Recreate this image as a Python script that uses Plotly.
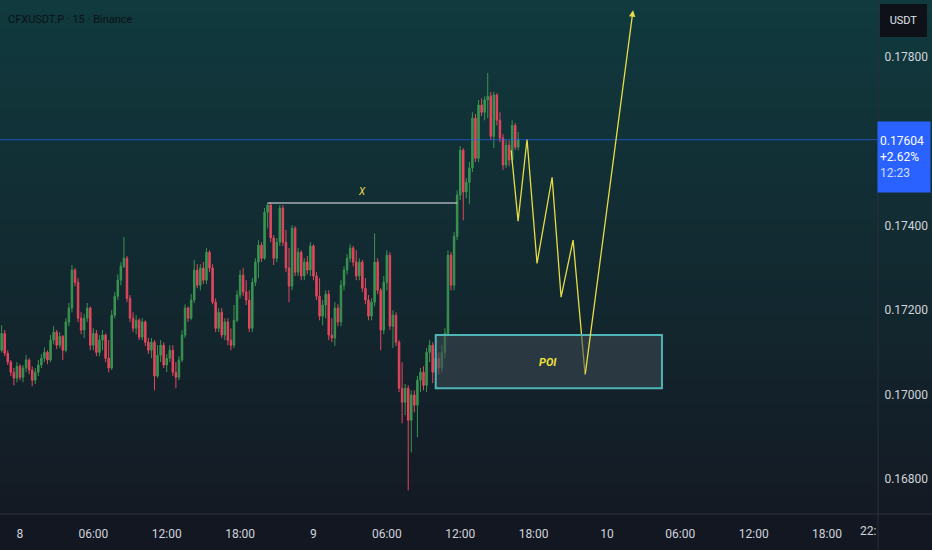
import plotly.graph_objects as go
import pandas as pd

# ---------------- data ----------------
times = pd.date_range("2025-06-07 22:30", periods=170, freq="15min")

opens = [0.17105, 0.17145, 0.17098, 0.17077, 0.17053, 0.17039, 0.17067, 0.17041, 0.17063, 0.17082,
         0.17058, 0.17034, 0.17053, 0.17070, 0.17086, 0.17100, 0.17082, 0.17129, 0.17148, 0.17117,
         0.17138, 0.17105, 0.17172, 0.17205, 0.17295, 0.17266, 0.17181, 0.17153, 0.17181, 0.17205,
         0.17117, 0.17145, 0.17100, 0.17129, 0.17141, 0.17086, 0.17063, 0.17188, 0.17233, 0.17271,
         0.17304, 0.17323, 0.17228, 0.17181, 0.17157, 0.17176, 0.17136, 0.17172, 0.17124, 0.17105,
         0.17124, 0.17044, 0.17093, 0.17117, 0.17070, 0.17086, 0.17105, 0.17053, 0.17041, 0.17082,
         0.17141, 0.17205, 0.17181, 0.17224, 0.17295, 0.17259, 0.17300, 0.17271, 0.17337, 0.17300,
         0.17219, 0.17157, 0.17195, 0.17141, 0.17172, 0.17129, 0.17117, 0.17176, 0.17236, 0.17283,
         0.17243, 0.17224, 0.17157, 0.17266, 0.17314, 0.17354, 0.17323, 0.17432, 0.17449, 0.17371,
         0.17323, 0.17361, 0.17442, 0.17361, 0.17300, 0.17257, 0.17394, 0.17290, 0.17337, 0.17281,
         0.17314, 0.17295, 0.17352, 0.17281, 0.17233, 0.17186, 0.17212, 0.17238, 0.17141, 0.17134,
         0.17205, 0.17172, 0.17259, 0.17295, 0.17323, 0.17347, 0.17314, 0.17281, 0.17314, 0.17252,
         0.17224, 0.17186, 0.17219, 0.17314, 0.17247, 0.17153, 0.17266, 0.17330, 0.17162, 0.17188,
         0.17124, 0.17015, 0.16982, 0.17015, 0.16939, 0.16999, 0.16975, 0.17034, 0.17053, 0.17022,
         0.17100, 0.17117, 0.17053, 0.17086, 0.17063, 0.17100, 0.17145, 0.17330, 0.17259, 0.17375,
         0.17473, 0.17579, 0.17480, 0.17503, 0.17537, 0.17655, 0.17560, 0.17686, 0.17669, 0.17698,
         0.17707, 0.17612, 0.17710, 0.17650, 0.17608, 0.17544, 0.17591, 0.17556, 0.17638, 0.17586]

highs = [0.17164, 0.17153, 0.17105, 0.17082, 0.17063, 0.17077, 0.17072, 0.17070, 0.17093, 0.17086,
         0.17067, 0.17063, 0.17082, 0.17096, 0.17112, 0.17105, 0.17141, 0.17162, 0.17153, 0.17148,
         0.17141, 0.17181, 0.17217, 0.17307, 0.17300, 0.17276, 0.17195, 0.17191, 0.17217, 0.17209,
         0.17157, 0.17153, 0.17141, 0.17153, 0.17145, 0.17129, 0.17200, 0.17243, 0.17285, 0.17314,
         0.17373, 0.17328, 0.17236, 0.17195, 0.17188, 0.17181, 0.17181, 0.17176, 0.17134, 0.17134,
         0.17129, 0.17117, 0.17129, 0.17124, 0.17096, 0.17117, 0.17117, 0.17077, 0.17091, 0.17153,
         0.17214, 0.17209, 0.17238, 0.17319, 0.17309, 0.17309, 0.17314, 0.17347, 0.17342, 0.17309,
         0.17228, 0.17205, 0.17205, 0.17181, 0.17181, 0.17157, 0.17212, 0.17247, 0.17295, 0.17300,
         0.17271, 0.17247, 0.17276, 0.17323, 0.17366, 0.17361, 0.17442, 0.17454, 0.17454, 0.17378,
         0.17371, 0.17449, 0.17449, 0.17390, 0.17347, 0.17401, 0.17399, 0.17347, 0.17342, 0.17323,
         0.17328, 0.17361, 0.17356, 0.17290, 0.17276, 0.17224, 0.17247, 0.17247, 0.17181, 0.17219,
         0.17214, 0.17271, 0.17304, 0.17333, 0.17356, 0.17352, 0.17342, 0.17323, 0.17319, 0.17276,
         0.17236, 0.17228, 0.17382, 0.17323, 0.17252, 0.17281, 0.17342, 0.17337, 0.17200, 0.17195,
         0.17129, 0.17077, 0.17025, 0.17022, 0.17010, 0.17010, 0.17044, 0.17063, 0.17067, 0.17110,
         0.17129, 0.17124, 0.17100, 0.17100, 0.17117, 0.17157, 0.17342, 0.17337, 0.17385, 0.17484,
         0.17589, 0.17584, 0.17513, 0.17551, 0.17669, 0.17665, 0.17698, 0.17702, 0.17707, 0.17762,
         0.17717, 0.17717, 0.17714, 0.17669, 0.17617, 0.17603, 0.17603, 0.17650, 0.17643, 0.17622]

lows = [0.17100, 0.17091, 0.17070, 0.17044, 0.17022, 0.17029, 0.17034, 0.17029, 0.17053, 0.17048,
        0.17020, 0.17025, 0.17044, 0.17063, 0.17077, 0.17072, 0.17077, 0.17119, 0.17108, 0.17110,
        0.17082, 0.17100, 0.17162, 0.17195, 0.17257, 0.17172, 0.17143, 0.17134, 0.17172, 0.17105,
        0.17105, 0.17091, 0.17091, 0.17105, 0.17077, 0.17053, 0.17058, 0.17181, 0.17224, 0.17259,
        0.17300, 0.17219, 0.17172, 0.17148, 0.17143, 0.17129, 0.17129, 0.17115, 0.17096, 0.17086,
        0.17010, 0.17039, 0.17077, 0.17063, 0.17053, 0.17077, 0.17044, 0.17015, 0.17034, 0.17077,
        0.17134, 0.17172, 0.17176, 0.17217, 0.17252, 0.17247, 0.17262, 0.17262, 0.17290, 0.17214,
        0.17148, 0.17148, 0.17134, 0.17129, 0.17117, 0.17105, 0.17110, 0.17172, 0.17228, 0.17233,
        0.17212, 0.17148, 0.17148, 0.17257, 0.17276, 0.17314, 0.17319, 0.17394, 0.17361, 0.17307,
        0.17314, 0.17352, 0.17352, 0.17290, 0.17219, 0.17247, 0.17281, 0.17281, 0.17271, 0.17271,
        0.17285, 0.17281, 0.17271, 0.17224, 0.17176, 0.17164, 0.17181, 0.17129, 0.17124, 0.17115,
        0.17162, 0.17162, 0.17247, 0.17285, 0.17314, 0.17304, 0.17271, 0.17271, 0.17243, 0.17214,
        0.17176, 0.17176, 0.17209, 0.17238, 0.17105, 0.17143, 0.17247, 0.17153, 0.17110, 0.17115,
        0.17006, 0.16932, 0.16951, 0.16773, 0.16863, 0.16958, 0.16899, 0.17006, 0.17010, 0.17006,
        0.17077, 0.17027, 0.17044, 0.17048, 0.17053, 0.17086, 0.17138, 0.17247, 0.17247, 0.17366,
        0.17461, 0.17413, 0.17465, 0.17451, 0.17527, 0.17551, 0.17551, 0.17660, 0.17650, 0.17655,
        0.17603, 0.17584, 0.17638, 0.17598, 0.17532, 0.17537, 0.17541, 0.17548, 0.17579, 0.17579]

closes = [0.17145, 0.17098, 0.17077, 0.17053, 0.17039, 0.17067, 0.17041, 0.17063, 0.17082, 0.17058,
          0.17034, 0.17053, 0.17070, 0.17086, 0.17100, 0.17082, 0.17129, 0.17148, 0.17117, 0.17138,
          0.17105, 0.17172, 0.17205, 0.17295, 0.17266, 0.17181, 0.17153, 0.17181, 0.17205, 0.17117,
          0.17145, 0.17100, 0.17129, 0.17141, 0.17086, 0.17063, 0.17188, 0.17233, 0.17271, 0.17304,
          0.17323, 0.17228, 0.17181, 0.17157, 0.17176, 0.17136, 0.17172, 0.17124, 0.17105, 0.17124,
          0.17044, 0.17093, 0.17117, 0.17070, 0.17086, 0.17105, 0.17053, 0.17041, 0.17082, 0.17141,
          0.17205, 0.17181, 0.17224, 0.17295, 0.17259, 0.17300, 0.17271, 0.17337, 0.17300, 0.17219,
          0.17157, 0.17195, 0.17141, 0.17172, 0.17129, 0.17117, 0.17176, 0.17236, 0.17283, 0.17243,
          0.17224, 0.17157, 0.17266, 0.17314, 0.17354, 0.17323, 0.17432, 0.17449, 0.17371, 0.17323,
          0.17361, 0.17442, 0.17361, 0.17300, 0.17257, 0.17394, 0.17290, 0.17337, 0.17281, 0.17314,
          0.17295, 0.17352, 0.17281, 0.17233, 0.17186, 0.17212, 0.17238, 0.17141, 0.17134, 0.17205,
          0.17172, 0.17259, 0.17295, 0.17323, 0.17347, 0.17314, 0.17281, 0.17314, 0.17252, 0.17224,
          0.17186, 0.17219, 0.17314, 0.17247, 0.17153, 0.17266, 0.17330, 0.17162, 0.17188, 0.17124,
          0.17015, 0.16982, 0.17015, 0.16939, 0.16999, 0.16975, 0.17034, 0.17053, 0.17022, 0.17100,
          0.17117, 0.17053, 0.17086, 0.17063, 0.17100, 0.17145, 0.17330, 0.17259, 0.17375, 0.17473,
          0.17579, 0.17480, 0.17503, 0.17537, 0.17655, 0.17560, 0.17686, 0.17669, 0.17698, 0.17707,
          0.17612, 0.17710, 0.17650, 0.17608, 0.17544, 0.17591, 0.17556, 0.17638, 0.17586, 0.17604]

# 0.17600 is hidden behind the last-price label in the reference
price_ticks = [0.168, 0.170, 0.172, 0.174, 0.178]
time_ticks = pd.date_range("2025-06-08 00:00", "2025-06-10 18:00", freq="6h")
time_labels = ["8", "06:00", "12:00", "18:00", "9", "06:00", "12:00", "18:00",
               "10", "06:00", "12:00", "18:00"]

# Drawing annotations
level_x = ["2025-06-08 20:15", "2025-06-09 11:45"]
level_y = [0.17454, 0.17454]
poi_x = ["2025-06-09 10:00", "2025-06-10 04:30"]
poi_y = [0.17015, 0.17141]
zig_x = ["2025-06-09 16:10", "2025-06-09 16:44", "2025-06-09 17:28", "2025-06-09 18:17",
         "2025-06-09 19:31", "2025-06-09 20:15", "2025-06-09 21:14", "2025-06-09 22:13"]
zig_y = [0.17579, 0.17411, 0.17605, 0.17311, 0.17515, 0.17231, 0.17366, 0.17046]
arrow_tip = ("2025-06-10 02:08", 0.17911)
last_price = 0.17604

# ---------------- figure ----------------
W, H = 932, 550
ML, MR, MT, MB = 0, 54, 0, 36
PW, PH = W - ML - MR, H - MT - MB

fig = go.Figure()

# gradient background bands (paper coordinates, spanning plot + price scale)
top = (16, 58, 62)
bot = (20, 26, 36)
N = 70
shapes = []
for k in range(N):
    t = k / (N - 1)
    c = tuple(int(round(top[j] + (bot[j] - top[j]) * t)) for j in range(3))
    y1 = 1 - k / N
    y0 = 1 - (k + 1) / N
    shapes.append(dict(type="rect", xref="paper", yref="paper", x0=0, x1=W / PW,
                       y0=y0 - 0.001, y1=y1 + 0.001, fillcolor="rgb(%d,%d,%d)" % c,
                       line=dict(width=0), layer="below"))

fig.add_trace(go.Candlestick(
    x=times, open=opens, high=highs, low=lows, close=closes,
    increasing=dict(line=dict(color="#3a9450", width=1), fillcolor="#3a9450"),
    decreasing=dict(line=dict(color="#e3475d", width=1), fillcolor="#e3475d"),
    whiskerwidth=0, hoverinfo="skip", showlegend=False))

# white level line
fig.add_trace(go.Scatter(x=level_x, y=level_y, mode="lines",
                         line=dict(color="#e8eef0", width=1.2),
                         hoverinfo="skip", showlegend=False))

# POI box
shapes.append(dict(type="rect", xref="x", yref="y", x0=poi_x[0], x1=poi_x[1],
                   y0=poi_y[0], y1=poi_y[1], fillcolor="rgba(62,74,84,0.55)",
                   line=dict(color="#4fb5b5", width=2), layer="above"))

# zigzag projection
fig.add_trace(go.Scatter(x=zig_x, y=zig_y, mode="lines",
                         line=dict(color="#e6dc46", width=1.3),
                         hoverinfo="skip", showlegend=False))

# current price line
shapes.append(dict(type="line", xref="paper", yref="y", x0=0, x1=1,
                   y0=last_price, y1=last_price,
                   line=dict(color="rgba(41,98,255,0.65)", width=1)))

# axis separators
shapes.append(dict(type="line", xref="paper", yref="paper", x0=1, x1=1, y0=-MB / PH, y1=1,
                   line=dict(color="#2a2e39", width=1)))
shapes.append(dict(type="line", xref="paper", yref="paper", x0=0, x1=W / PW, y0=0, y1=0,
                   line=dict(color="#2a2e39", width=1)))

annotations = [
    dict(x=arrow_tip[0], y=arrow_tip[1], xref="x", yref="y",
         ax=zig_x[-1], ay=zig_y[-1], axref="x", ayref="y",
         showarrow=True, arrowhead=2, arrowsize=1, arrowwidth=1.3,
         arrowcolor="#e6dc46", text=""),
    dict(x="2025-06-09 04:00", y=0.17482, xref="x", yref="y", text="<i>X</i>",
         showarrow=False, font=dict(color="#e6d84a", size=10, family="Roboto")),
    dict(x="2025-06-09 19:11", y=0.17077, xref="x", yref="y", text="<b><i>POI</i></b>",
         showarrow=False, font=dict(color="#f0e23c", size=11, family="Roboto")),
    dict(x=6 / PW, y=1 - 20 / PH, xref="paper", yref="paper", xanchor="left", yanchor="middle",
         text="CFXUSDT.P · 15 · Binance", showarrow=False,
         font=dict(color="#0b1216", size=11, family="Roboto")),
    dict(x=(903.5) / PW, y=1 - 21 / PH, xref="paper", yref="paper", xanchor="center",
         yanchor="middle", text="USDT", showarrow=False, bgcolor="#0e1218",
         bordercolor="#0e1218", width=43, height=29,
         font=dict(color="#e0e3eb", size=11, family="Roboto")),
    dict(x=(904) / PW, y=1 - 157 / PH, xref="paper", yref="paper", xanchor="center",
         yanchor="middle", align="left", showarrow=False, bgcolor="#2962ff",
         width=48, height=66, borderpad=2,
         text="0.17604<br>+2.62%<br><span style='color:#cfdcff'>12:23</span>",
         font=dict(color="#ffffff", size=12, family="Roboto")),
    dict(x=868 / PW, y=-17 / PH, xref="paper", yref="paper", xanchor="center",
         yanchor="middle", text="22:", showarrow=False,
         font=dict(color="#d1d4dc", size=12, family="Roboto")),
]

fig.update_layout(
    width=W, height=H,
    margin=dict(l=ML, r=MR, t=MT, b=MB),
    paper_bgcolor="#131722", plot_bgcolor="rgba(0,0,0,0)",
    shapes=shapes, annotations=annotations,
    showlegend=False,
    xaxis=dict(type="date", range=["2025-06-07 22:22", "2025-06-10 22:10"],
               tickvals=list(time_ticks), ticktext=time_labels,
               showgrid=False, zeroline=False, showline=False,
               ticks="outside", ticklen=9, tickcolor="rgba(0,0,0,0)",
               rangeslider=dict(visible=False), fixedrange=True,
               tickfont=dict(color="#d1d4dc", size=12, family="Roboto")),
    yaxis=dict(side="right", range=[0.16717, 0.17935], tickvals=price_ticks,
               tickformat=".5f", showgrid=False, zeroline=False, showline=False,
               ticks="outside", ticklen=3, tickcolor="rgba(0,0,0,0)", fixedrange=True,
               tickfont=dict(color="#d1d4dc", size=12, family="Roboto")),
)

fig.write_html("out.html", config={"displayModeBar": False},
               post_script="document.body.style.margin='0';"
                           "document.body.style.background='#131722';")
